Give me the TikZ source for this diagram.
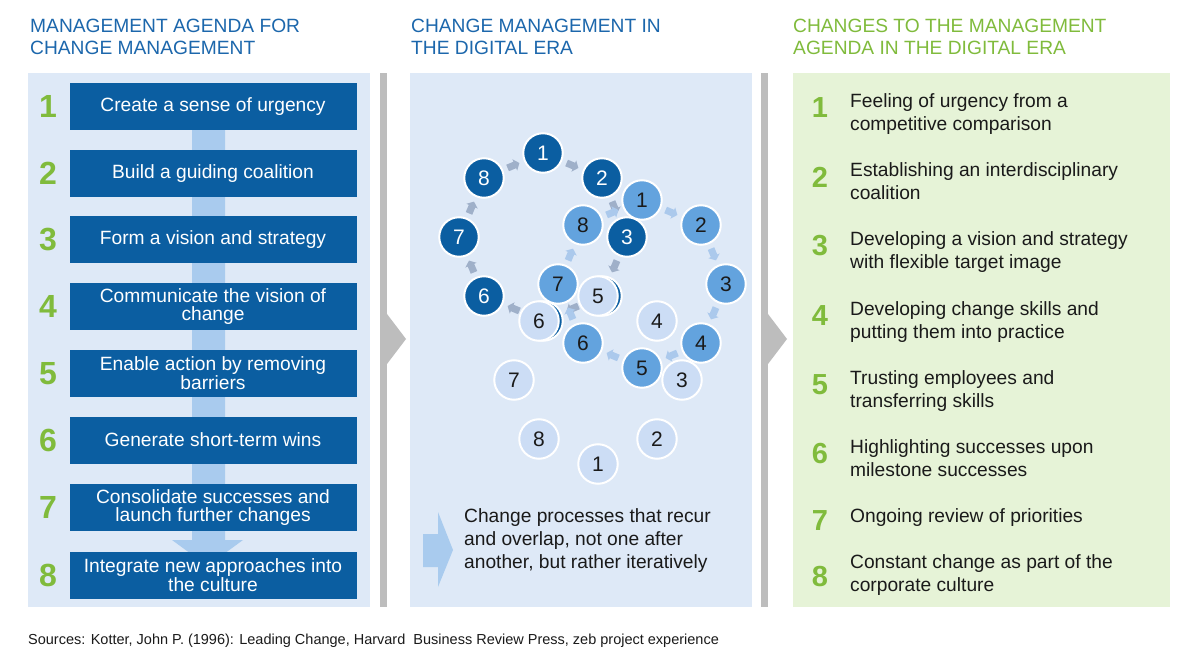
\documentclass[tikz,border=0pt]{standalone}
\usepackage{fontspec}
\setmainfont{Liberation Sans}
\usetikzlibrary{calc,arrows.meta}
\definecolor{hdrblue}{HTML}{1C67AC}
\definecolor{boxblue}{HTML}{0B5EA1}
\definecolor{panelblue}{HTML}{DEE9F7}
\definecolor{panelgreen}{HTML}{E6F3D7}
\definecolor{agreen}{HTML}{80BB3C}
\definecolor{sepgray}{HTML}{BDBDBD}
\definecolor{barblue}{HTML}{A9CBEE}
\definecolor{cdark}{HTML}{0B5EA1}
\definecolor{cmed}{HTML}{63A3DE}
\definecolor{clight}{HTML}{CCDDF5}
\definecolor{adark}{HTML}{9FB0C9}
\definecolor{amed}{HTML}{ABC9EC}
\definecolor{textdark}{HTML}{1A1A1A}
\begin{document}
\begin{tikzpicture}[x=1pt,y=-1pt,
  hdr/.style={anchor=north west, align=left, inner sep=0pt, font=\fontsize{19.2}{22}\selectfont},
  lbox/.style={fill=boxblue, text=white, minimum width=287pt, minimum height=47pt, inner sep=0pt, align=center, font=\fontsize{19.2}{18.5}\selectfont},
  lnum/.style={text=agreen, inner sep=0pt, font=\fontsize{32}{32}\selectfont\bfseries},
  rnum/.style={text=agreen, inner sep=0pt, font=\fontsize{29}{29}\selectfont\bfseries},
  ritem/.style={anchor=north west, align=left, inner sep=0pt, text=textdark, font=\fontsize{19.2}{23}\selectfont},
  circ/.style={circle, minimum size=39.5pt, inner sep=0pt, draw=white, line width=2pt, font=\fontsize{21}{21}\selectfont},
  dk/.style={circ, fill=cdark, text=white},
  md/.style={circ, fill=cmed, text=textdark},
  lt/.style={circ, fill=clight, text=textdark},
  darr/.style={draw=adark, line width=7pt, -{Triangle[width=12pt,length=5pt]}},
  marr/.style={draw=amed, line width=7pt, -{Triangle[width=12pt,length=5pt]}}
]
\useasboundingbox (0,0) rectangle (1200,668);
\fill[white] (0,0) rectangle (1200,668);

% panels
\fill[panelblue] (28,73) rectangle (370,607);
\fill[panelblue] (410,73) rectangle (752,607);
\fill[panelgreen] (793,73) rectangle (1170,607);

% separators
\fill[sepgray] (380,73) rectangle (387,607);
\fill[sepgray] (387,314) -- (406,339) -- (387,364) -- cycle;
\fill[sepgray] (761,73) rectangle (768,607);
\fill[sepgray] (768,314) -- (787,339) -- (768,364) -- cycle;

% headers
\node[hdr, text=hdrblue] (h1) at (30,18) {\rule{0pt}{14pt}MANAGEMENT AGENDA FOR\\CHANGE MANAGEMENT};
\node[hdr, text=hdrblue] (h2) at (411,18) {\rule{0pt}{14pt}CHANGE MANAGEMENT IN\\THE DIGITAL ERA};
\node[hdr, text=agreen] (h3) at (793,18) {\rule{0pt}{14pt}CHANGES TO THE MANAGEMENT\\AGENDA IN THE DIGITAL ERA};

% left arrow bar
\fill[barblue] (192,130) -- (225,130) -- (225,540) -- (243,540) -- (207.5,566) -- (172,540) -- (192,540) -- cycle;

% left boxes
\node[lbox] (b1) at (213,106.7) {Create a sense of urgency};
\node[lbox] (b2) at (213,173.3) {Build a guiding coalition};
\node[lbox] (b3) at (213,240) {Form a vision and strategy};
\node[lbox] (b4) at (213,306.7) {Communicate the vision of\\change};
\node[lbox] (b5) at (213,373.3) {Enable action by removing\\barriers};
\node[lbox] (b6) at (213,440) {Generate short-term wins};
\node[lbox] (b7) at (213,507.7) {Consolidate successes and\\launch further changes};
\node[lbox] (b8) at (213,575) {Integrate new approaches into\\the culture};

\node[lnum] (n1) at (48,106.7) {1};
\node[lnum] (n2) at (48,173.3) {2};
\node[lnum] (n3) at (48,240) {3};
\node[lnum] (n4) at (48,306.7) {4};
\node[lnum] (n5) at (48,373.3) {5};
\node[lnum] (n6) at (48,440) {6};
\node[lnum] (n7) at (48,507.7) {7};
\node[lnum] (n8) at (48,575) {8};

% middle: circle coordinates
\coordinate (D1) at (543,153); \coordinate (D2) at (602,178);
\coordinate (D3) at (627,237); \coordinate (D4) at (602,296);
\coordinate (D5) at (543,321); \coordinate (D6) at (484,296);
\coordinate (D7) at (459,237); \coordinate (D8) at (484,178);
\coordinate (M1) at (642,200); \coordinate (M2) at (701,225);
\coordinate (M3) at (726,284); \coordinate (M4) at (701,343);
\coordinate (M5) at (642,368); \coordinate (M6) at (583,343);
\coordinate (M7) at (558,284); \coordinate (M8) at (583,225);

% arrows between circles
\foreach \a/\b in {1/2,2/3,3/4,4/5,5/6,6/7,7/8,8/1}{
  \draw[darr] ($(D\a)!0.40!(D\b)$) -- ($(D\a)!0.60!(D\b)$);
  \draw[marr] ($(M\a)!0.40!(M\b)$) -- ($(M\a)!0.60!(M\b)$);
}

% dark ring (4 and 5 lie hidden under the light ring)
\node[dk] (d1) at (D1) {1}; \node[dk] (d2) at (D2) {2};
\node[dk] (d3) at (D3) {3}; \node[dk] (d4) at (D4) {};
\node[dk] (d5) at (D5) {}; \node[dk] (d6) at (D6) {6};
\node[dk] (d7) at (D7) {7}; \node[dk] (d8) at (D8) {8};
% medium ring
\node[md] (m1) at (M1) {1}; \node[md] (m2) at (M2) {2};
\node[md] (m3) at (M3) {3}; \node[md] (m4) at (M4) {4};
\node[md] (m5) at (M5) {5}; \node[md] (m6) at (M6) {6};
\node[md] (m7) at (M7) {7}; \node[md] (m8) at (M8) {8};
% light ring
\node[lt] (l1) at (598,464) {1}; \node[lt] (l2) at (657,439) {2};
\node[lt] (l3) at (682,380) {3}; \node[lt] (l4) at (657,321) {4};
\node[lt] (l5) at (598,296) {5}; \node[lt] (l6) at (539,321) {6};
\node[lt] (l7) at (514,380) {7}; \node[lt] (l8) at (539,439) {8};

% bottom middle arrow and text
\fill[barblue] (423,534) -- (438,534) -- (438,512) -- (453,550) -- (438,587) -- (438,567) -- (423,567) -- cycle;
\node[ritem] (mt) at (464,508) {\rule{0pt}{14pt}Change processes that recur\\and overlap, not one after\\another, but rather iteratively};

% right panel
\node[rnum] (r1) at (820,108) {1};
\node[rnum] (r2) at (820,177) {2};
\node[rnum] (r3) at (820,246) {3};
\node[rnum] (r4) at (820,316) {4};
\node[rnum] (r5) at (820,385) {5};
\node[rnum] (r6) at (820,454) {6};
\node[rnum] (r7) at (820,521) {7};
\node[rnum] (r8) at (820,577) {8};

\node[ritem] (t1) at (850,93) {\rule{0pt}{14pt}Feeling of urgency from a\\competitive comparison};
\node[ritem] (t2) at (850,162) {\rule{0pt}{14pt}Establishing an interdisciplinary\\coalition};
\node[ritem] (t3) at (850,231) {\rule{0pt}{14pt}Developing a vision and strategy\\with flexible target image};
\node[ritem] (t4) at (850,301) {\rule{0pt}{14pt}Developing change skills and\\putting them into practice};
\node[ritem] (t5) at (850,370) {\rule{0pt}{14pt}Trusting employees and\\transferring skills};
\node[ritem] (t6) at (850,439) {\rule{0pt}{14pt}Highlighting successes upon\\milestone successes};
\node[ritem] (t7) at (850,508) {\rule{0pt}{14pt}Ongoing review of priorities};
\node[ritem] (t8) at (850,554) {\rule{0pt}{14pt}Constant change as part of the\\corporate culture};

% sources
\node[anchor=base west, inner sep=0pt, text=textdark, font=\fontsize{14.5}{17}\selectfont] (src) at (28,644) {Sources: Kotter, John P. (1996): Leading Change, Harvard\ \ Business Review Press, zeb project experience};
\end{tikzpicture}
\end{document}
